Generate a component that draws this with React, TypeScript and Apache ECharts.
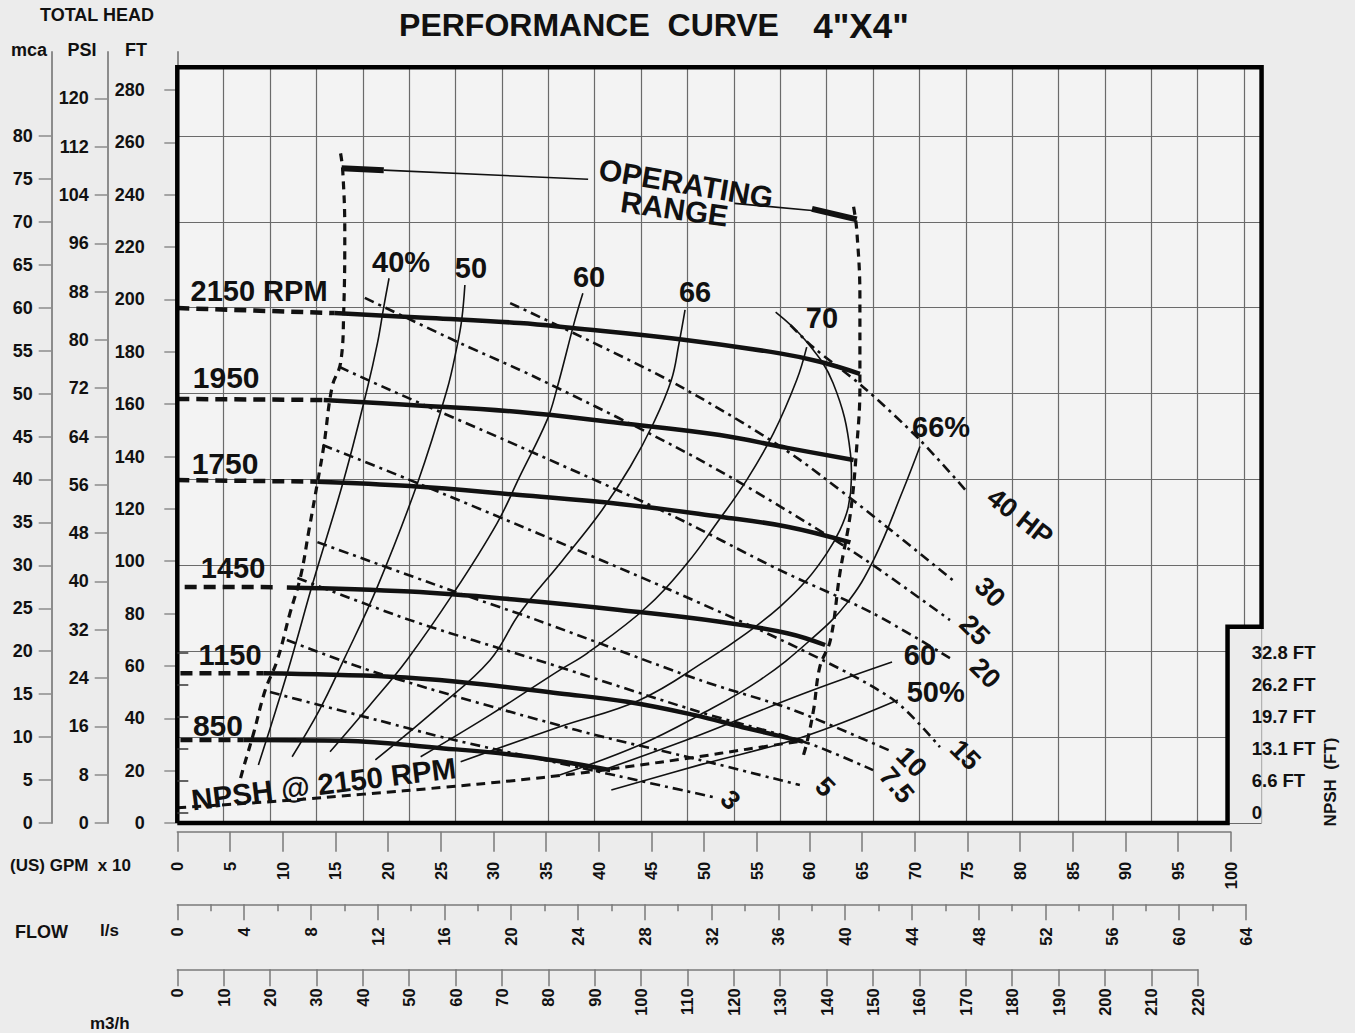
import React, { useEffect, useRef } from "react";
import * as echarts from "echarts";

// ---------- data (x = US GPM x 10, y = total head in FT) ----------
const head2150Dash = [[0, 196.7], [14.9, 194.8]];
const head2150 = [[14.9, 194.8], [24, 192.9], [32.5, 191.0], [37.3, 189.2], [47.7, 184.8], [57.2, 179.4], [61, 176.2], [64.8, 171.6]];
const head1950Dash = [[0, 162.0], [13.9, 161.6]];
const head1950 = [[13.9, 161.6], [22.1, 159.7], [32.5, 157.0], [42, 152.8], [51.5, 148.2], [57.9, 143.3], [64.2, 138.7]];
const head1750Dash = [[0, 131.0], [13.3, 130.4]];
const head1750 = [[13.3, 130.4], [22.1, 128.7], [32.5, 125.3], [42, 121.9], [51.5, 117.0], [57.9, 113.2], [63.9, 107.2]];
const head1450Dash = [[0.7, 90.2], [9.3, 90.1]];
const head1450 = [[10.4, 90.0], [22.1, 88.4], [32.5, 85.2], [42, 81.4], [51.5, 76.9], [57.9, 72.5], [61.5, 68.0]];
const head1150Dash = [[0.3, 57.2], [8.2, 57.2]];
const head1150 = [[8.2, 57.2], [20.2, 55.9], [26.6, 54.0], [36.3, 49.5], [42.7, 46.3], [49, 41.3], [54.1, 36.2], [59.4, 31.1]];
const head850Dash = [[0.3, 31.7], [6.3, 31.7]];
const head850 = [[6.3, 31.7], [15.8, 31.4], [25.3, 28.5], [31.6, 26.2], [36.3, 23.6], [41.1, 20.2]];

const eff40 = [[20.1, 208.1], [19.6, 197.2], [19.0, 183.3], [18.0, 165.4], [15.8, 131.0], [12.95, 92.8], [10.8, 62.3], [9.3, 42.4], [7.7, 22.2]];
const eff50 = [[27.3, 205.5], [27.0, 192.2], [26.55, 182.0], [25.6, 165.4], [22.8, 129.8], [19.0, 90.3], [15.8, 62.3], [13.5, 43.2], [10.9, 25.3]];
const eff60 = [[38.5, 202.4], [37.75, 192.2], [36.0, 165.4], [35.1, 153.9], [32.5, 132.3], [30.35, 114.5], [26.2, 87.7], [21.8, 62.3], [18.3, 45.1], [14.5, 27.2]];
const eff66 = [[48.2, 196.0], [47.6, 182.6], [46.9, 169.2], [45.2, 152.7], [43.0, 136.1], [40.1, 118.3], [36.6, 100.5], [32.5, 80.1], [29.7, 62.3], [24.5, 43.2], [18.8, 24.1]];
const eff70Left = [[59.75, 181.8], [58.8, 169.2], [56.6, 148.9], [54.05, 131.0], [51.2, 114.5], [48.4, 99.2], [44.6, 82.6], [38.9, 64.8], [36.3, 58.4], [29.7, 41.3], [23.1, 25.3]];
const eff70Loop = [[56.8, 195.2], [59.6, 184.5], [62.25, 168.1], [63.9, 141.2], [64.0, 132.3], [63.7, 120.8], [62.9, 111.9], [61.65, 103.0], [59.75, 92.8], [57.2, 82.6], [54.05, 72.5], [50.3, 62.3], [43.9, 47.0], [36.3, 36.8], [26.9, 23.4]];
const eff66Right = [[70.5, 143.8], [68.9, 127.2], [66.1, 100.5], [63.55, 83.9], [60.1, 69.9], [55.3, 54.6], [49.6, 41.3], [43.9, 29.8], [36.3, 18.3]];
const eff60Right = [[39.9, 19.5], [49.6, 33.6], [59.1, 48.9], [67.85, 61.5]];
const eff50Right = [[41.2, 12.6], [49.6, 22.2], [59.1, 32.5], [68.4, 47.0]];

const hp40 = [[58.2, 190.2], [60.35, 181.8], [65.1, 166.6], [70.5, 146.3], [75.0, 126.4]];
const hp30 = [[31.6, 198.6], [37.6, 187.2], [48.0, 166.2], [59.1, 138.7], [73.6, 92.8]];
const hp25 = [[17.8, 200.6], [26.8, 183.4], [34.15, 170.0], [49.6, 138.7], [63.9, 104.3], [73.35, 77.5]];
const hp20 = [[15.4, 174.2], [20.2, 165.4], [32.5, 143.8], [46.5, 118.4], [57.2, 96.6], [66.0, 80.2], [73.35, 63.0]];
const hp15 = [[13.8, 144.4], [22.1, 131.0], [34.15, 110.8], [46.8, 89.0], [59.1, 66.5], [68.0, 47.0], [72.4, 29.0]];
const hp10 = [[13.3, 107.3], [25.9, 89.0], [34.15, 77.5], [49.6, 54.6], [58.45, 43.2], [67.95, 27.1]];
const hp7_5 = [[11.4, 93.6], [22.1, 77.5], [34.15, 62.3], [49.6, 42.4], [59.8, 30.6], [66.05, 20.2]];
const hp5 = [[10.4, 69.9], [19.0, 57.3], [37.9, 35.5], [49.6, 24.1], [59.1, 14.5]];
const hp3 = [[8.8, 50.0], [19.0, 39.3], [26.3, 31.7], [40.1, 19.5], [51.2, 9.6]];

const opRangeLeft = [[15.5, 255.8], [15.7, 249.5], [15.9, 226.5], [15.8, 196.0], [15.5, 175.7], [14.7, 166.7], [13.9, 143.8], [13.3, 129.9], [12.5, 111.9], [11.7, 94.1], [10.7, 80.2], [9.5, 62.3], [8.35, 50.8], [7.25, 34.4], [6.3, 21.4], [6.0, 17.0]];
const opRangeRight = [[64.2, 235.4], [64.5, 226.5], [64.8, 201.1], [64.8, 173.1], [64.8, 166.7], [64.5, 143.8], [63.9, 118.3], [62.9, 95.4], [62.0, 69.9], [61.0, 59.7], [60.4, 43.2], [59.75, 30.4], [59.3, 24.1]];
const rangeMarkLeft = [[15.6, 250.1], [19.6, 249.4]];
const rangeLeaderLeft = [[19.6, 249.4], [39.0, 245.9]];
const rangeLeaderRight = [[52.9, 236.7], [60.25, 234.0]];
const rangeMarkRight = [[60.25, 234.6], [64.5, 230.6]];

// NPSH @ 2150 RPM (x = GPM x 10, y = NPSH in FT)
const npsh2150 = [[0, 1.0], [10.4, 2.5], [17.7, 3.8], [25.3, 5.2], [31.6, 6.5], [37.9, 8.0], [42.7, 9.4], [49, 11.3], [54.1, 13.0], [59.4, 14.7]];

// tick labels
const ftTicks = [0, 20, 40, 60, 80, 100, 120, 140, 160, 180, 200, 220, 240, 260, 280];
const psiTicks = [0, 8, 16, 24, 32, 40, 48, 56, 64, 72, 80, 88, 96, 104, 112, 120];
const mcaTicks = [0, 5, 10, 15, 20, 25, 30, 35, 40, 45, 50, 55, 60, 65, 70, 75, 80];
const npshTickLabels = ["0", "6.6 FT", "13.1 FT", "19.7 FT", "26.2 FT", "32.8 FT"];

// annotations (anchor in data coords x = GPM x 10, y = FT)
const annotations = [
  { text: "2150 RPM", x: 7.76, y: 203.2, rot: 0, size: 29 },
  { text: "1950", x: 4.64, y: 170.0, rot: 0, size: 30 },
  { text: "1750", x: 4.53, y: 137.5, rot: 0, size: 30 },
  { text: "1450", x: 5.29, y: 97.4, rot: 0, size: 29 },
  { text: "1150", x: 5.01, y: 64.2, rot: 0, size: 29 },
  { text: "850", x: 3.86, y: 37.4, rot: 0, size: 30 },
  { text: "NPSH @ 2150 RPM", x: 13.9, y: 15.0, rot: 7, size: 29.5 },
  { text: "40%", x: 21.24, y: 214.3, rot: 0, size: 29 },
  { text: "50", x: 27.88, y: 212.0, rot: 0, size: 29 },
  { text: "60", x: 39.09, y: 208.6, rot: 0, size: 29 },
  { text: "66", x: 49.15, y: 202.8, rot: 0, size: 29 },
  { text: "70", x: 61.2, y: 192.9, rot: 0, size: 29 },
  { text: "66%", x: 72.5, y: 151.3, rot: 0, size: 29 },
  { text: "60", x: 70.5, y: 64.2, rot: 0, size: 29 },
  { text: "50%", x: 72.0, y: 50.0, rot: 0, size: 29 },
  { text: "40 HP", x: 80.0, y: 116.9, rot: -38, size: 27 },
  { text: "30", x: 77.15, y: 88.2, rot: -45, size: 27 },
  { text: "25", x: 75.7, y: 73.7, rot: -45, size: 27 },
  { text: "20", x: 76.7, y: 57.3, rot: -45, size: 27 },
  { text: "15", x: 74.8, y: 26.0, rot: -45, size: 27 },
  { text: "10", x: 69.7, y: 23.3, rot: -45, size: 27 },
  { text: "7.5", x: 68.3, y: 14.5, rot: -50, size: 27 },
  { text: "5", x: 61.5, y: 13.8, rot: -45, size: 27 },
  { text: "3", x: 52.5, y: 8.8, rot: -45, size: 27 },
  { text: "OPERATING", x: 48.3, y: 244.3, rot: -9.5, size: 30 },
  { text: "RANGE", x: 47.2, y: 234.6, rot: -8, size: 30 },
];

// ---------- layout ----------
const FONT = '"Liberation Sans", Arial, Helvetica, sans-serif';
const BG = "#ececec";
const PLOT_BG = "#f3f3f3";
const GRID_C = "#6a6a6a";
const AX_C = "#7a7a7a";
const TXT = "#111111";
const X0 = 177.3;
const PXU = 10.534; // px per GPM x10
const PX_FT = 2.6177; // px per ft
const Y0 = 823;
const FT_PER_M = 3.2808;
const FT_PER_PSI = 2.3067;
const M3H_PER_U = 2.2712; // m3/h per GPM x10
const LPS_PER_U = 0.6309; // l/s per GPM x10
const FRAME_XMAX = 102.93;
const FRAME_TOP_FT = 88 * FT_PER_M;
const NOTCH_X = 99.7;
const NOTCH_FT = 75.0;
const LEFT_AX_TOP = 52;

function buildOption(): any {
  const lineS = (data: number[][], width: number, type: any, smooth = 0.35, z = 3) => ({
    type: "line",
    xAxisIndex: 0,
    yAxisIndex: 0,
    data,
    symbol: "none",
    smooth,
    clip: false,
    silent: true,
    z,
    lineStyle: { color: "#111", width, type, cap: "butt", join: "round" },
  });
  const dashHead = [12, 7];
  const hpDash = [10, 5, 3, 5];
  const series: any[] = [];
  // frame + notch cover
  series.push({
    type: "line",
    xAxisIndex: 0,
    yAxisIndex: 0,
    data: [[0, 0], [0, FRAME_TOP_FT], [FRAME_XMAX, FRAME_TOP_FT], [FRAME_XMAX, NOTCH_FT], [NOTCH_X, NOTCH_FT], [NOTCH_X, 0], [0, 0]],
    symbol: "none",
    clip: false,
    silent: true,
    z: 8,
    lineStyle: { color: "#000", width: 4.5, join: "miter" },
    markArea: {
      silent: true,
      itemStyle: { color: BG, opacity: 1 },
      data: [[{ coord: [NOTCH_X, -2] }, { coord: [FRAME_XMAX + 0.6, NOTCH_FT] }]],
    },
  });
  [head2150Dash, head1950Dash, head1750Dash, head1450Dash, head1150Dash, head850Dash].forEach((d) =>
    series.push(lineS(d, 4.5, dashHead, 0, 4))
  );
  [head2150, head1950, head1750, head1450, head1150, head850].forEach((d) => series.push(lineS(d, 4.5, "solid", 0.4, 4)));
  [eff40, eff50, eff60, eff66, eff70Left, eff70Loop, eff66Right, eff60Right, eff50Right].forEach((d) =>
    series.push(lineS(d, 1.6, "solid", 0.4, 3))
  );
  [hp40, hp30, hp25, hp20, hp15, hp10, hp7_5, hp5, hp3].forEach((d) => series.push(lineS(d, 2.6, hpDash, 0.3, 3)));
  series.push(lineS(opRangeLeft, 3.2, [8, 6], 0.4, 3));
  series.push(lineS(opRangeRight, 3.2, [8, 6], 0.4, 3));
  series.push(lineS(rangeLeaderLeft, 1.6, "solid", 0, 3));
  series.push(lineS(rangeLeaderRight, 1.6, "solid", 0, 3));
  series.push(lineS(rangeMarkLeft, 6, "solid", 0, 3));
  series.push(lineS(rangeMarkRight, 6, "solid", 0, 3));
  // NPSH curve on its own scale
  series.push({
    type: "line",
    xAxisIndex: 6,
    yAxisIndex: 8,
    data: npsh2150.map(([x, f]) => [x, f / FT_PER_M]),
    symbol: "none",
    smooth: 0.4,
    clip: false,
    silent: true,
    z: 3,
    lineStyle: { color: "#111", width: 3, type: [9, 6], cap: "butt" },
  });
  // annotations
  series.push({
    type: "scatter",
    xAxisIndex: 0,
    yAxisIndex: 0,
    symbolSize: 1,
    silent: true,
    z: 10,
    itemStyle: { opacity: 1, color: "rgba(0,0,0,0)" },
    data: annotations.map((a) => ({
      value: [a.x, a.y],
      label: {
        show: true,
        position: "inside",
        formatter: a.text,
        rotate: a.rot,
        fontSize: a.size,
        fontWeight: "bold",
        fontFamily: FONT,
        color: TXT,
        opacity: 1,
        textBorderWidth: 0,
      },
    })),
  });

  const leftAxis = (max: number, offset: number, ticks: number[]) => ({
    gridIndex: 1,
    type: "value",
    position: "left",
    offset,
    min: 0,
    max,
    axisLine: { show: true, lineStyle: { color: "#8c8c8c", width: 2 } },
    axisTick: { show: true, length: 13, customValues: ticks, lineStyle: { color: "#8c8c8c", width: 1.5 } },
    axisLabel: { show: true, customValues: ticks, margin: 19, fontSize: 18, fontWeight: "bold", fontFamily: FONT, color: TXT },
    splitLine: { show: false },
  });
  const leftFtMax = (Y0 - LEFT_AX_TOP) / PX_FT;
  const bottomAxis = (grid: number, max: number, interval: number, tickLen: number, margin: number, minor: boolean) => ({
    gridIndex: grid,
    type: "value",
    position: "bottom",
    min: 0,
    max,
    interval,
    axisLine: { show: true, onZero: false, lineStyle: { color: AX_C, width: 1.5 } },
    axisTick: { show: true, length: tickLen, lineStyle: { color: AX_C, width: 1.5 } },
    minorTick: { show: minor, splitNumber: 2, length: 7, lineStyle: { color: AX_C, width: 1.5 } },
    axisLabel: { show: true, rotate: 90, margin, fontSize: 16.5, fontWeight: "bold", fontFamily: FONT, color: TXT },
    splitLine: { show: false },
    minorSplitLine: { show: false },
  });
  const hiddenY = (grid: number) => ({ gridIndex: grid, type: "value", show: false, min: 0, max: 1 });

  const txt = (text: string, x: number, y: number, size: number, align = "center", rotation = 0) => ({
    type: "text",
    x,
    y,
    rotation,
    z: 20,
    style: {
      text,
      fontSize: size,
      fontWeight: "bold",
      fontFamily: FONT,
      fill: TXT,
      align,
      textAlign: align,
      verticalAlign: "middle",
      textVerticalAlign: "middle",
    },
  });

  return {
    animation: false,
    backgroundColor: BG,
    grid: [
      { left: X0, top: Y0 - FRAME_TOP_FT * PX_FT, width: FRAME_XMAX * PXU, height: FRAME_TOP_FT * PX_FT, show: true, backgroundColor: PLOT_BG, borderWidth: 0 },
      { left: X0, top: LEFT_AX_TOP, width: 20, height: Y0 - LEFT_AX_TOP },
      { left: X0, top: 821, width: 100 * PXU, height: 831.7 - 821 },
      { left: X0, top: 894, width: (64 / LPS_PER_U) * PXU, height: 904.3 - 894 },
      { left: X0, top: 959, width: (220 / M3H_PER_U) * PXU, height: 969.3 - 959 },
      { left: X0, top: 652.3, width: 100 * PXU, height: 160.4 },
    ],
    xAxis: [
      { gridIndex: 0, type: "value", min: 0, max: FRAME_XMAX, show: false },
      {
        gridIndex: 0,
        type: "value",
        min: 0,
        max: FRAME_XMAX * M3H_PER_U,
        interval: 10,
        axisLine: { show: false },
        axisTick: { show: false },
        axisLabel: { show: false },
        splitLine: { show: true, lineStyle: { color: GRID_C, width: 1.2 } },
      },
      { gridIndex: 1, type: "value", show: false, min: 0, max: 1 },
      bottomAxis(2, 100, 5, 20, 30, false),
      bottomAxis(3, 64, 4, 16, 23, true),
      bottomAxis(4, 220, 10, 17, 19, false),
      { gridIndex: 5, type: "value", min: 0, max: 100, show: false },
    ],
    yAxis: [
      { gridIndex: 0, type: "value", min: 0, max: FRAME_TOP_FT, show: false },
      {
        gridIndex: 0,
        type: "value",
        min: 0,
        max: 88,
        interval: 10,
        axisLine: { show: false },
        axisTick: { show: false },
        axisLabel: { show: false },
        splitLine: { show: true, lineStyle: { color: GRID_C, width: 1.2 } },
      },
      leftAxis(leftFtMax, X0 - 163.7, ftTicks),
      leftAxis(leftFtMax / FT_PER_PSI, X0 - 107.7, psiTicks),
      leftAxis(leftFtMax / FT_PER_M, X0 - 51.7, mcaTicks),
      hiddenY(2),
      hiddenY(3),
      hiddenY(4),
      {
        gridIndex: 5,
        type: "value",
        position: "right",
        offset: 2,
        min: 0,
        max: 10,
        interval: 2,
        z: 12,
        axisLine: { show: false },
        axisTick: { show: true, length: 11, lineStyle: { color: "#333", width: 1.5 } },
        axisLabel: {
          show: true,
          margin: 19,
          fontSize: 18.5,
          fontWeight: "bold",
          fontFamily: FONT,
          color: TXT,
          formatter: (v: number) => npshTickLabels[Math.round(v / 2)] ?? "",
        },
        splitLine: { show: false },
      },
    ],
    series,
    graphic: [
      txt("TOTAL HEAD", 97, 15, 18),
      txt("mca", 29, 50, 18),
      txt("PSI", 82, 50, 18),
      txt("FT", 136, 50, 18),
      txt("PERFORMANCE  CURVE", 589, 25, 32),
      txt('4"X4"', 861, 25, 35),
      txt("(US) GPM  x 10", 10, 865, 17, "left"),
      txt("FLOW", 15, 932, 18, "left"),
      txt("l/s", 100, 930, 17, "left"),
      txt("m3/h", 90, 1023, 17, "left"),
      txt("NPSH  (FT)", 1330, 782, 17, "center", Math.PI / 2),
    ],
  };
}

export default function App() {
  const ref = useRef<HTMLDivElement>(null);
  useEffect(() => {
    document.body.style.margin = "0";
    const chart = echarts.init(ref.current as HTMLDivElement, null, { renderer: "svg" });
    chart.setOption(buildOption());
    return () => chart.dispose();
  }, []);
  return <div ref={ref} style={{ width: 1355, height: 1033 }} />;
}
